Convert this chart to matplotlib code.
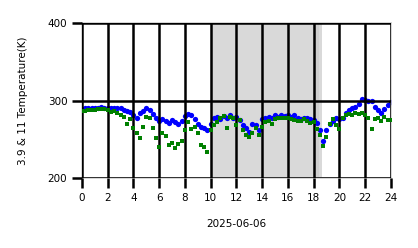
import numpy as np
import matplotlib
matplotlib.use("Agg")
import matplotlib.pyplot as plt

# hours of the day (every 15 min)
hours = np.arange(0, 24.01, 0.25)

# 3.9 um brightness temperature (K)
t39 = [289, 290, 290, 291, 291, 291, 292, 291, 291, 290, 290, 291, 290, 288, 286, 285,
       282, 278, 284, 286, 290, 288, 283, 277, 273, 276, 274, 271, 275, 272, 270, 273,
       280, 283, 281, 276, 270, 266, 265, 262, 270, 277, 279, 276, 280, 278, 281, 277,
       279, 275, 269, 265, 260, 270, 268, 262, 276, 278, 279, 277, 281, 279, 282, 280,
       281, 279, 281, 278, 276, 278, 277, 276, 275, 271, 262, 248, 262, 270, 274, 277,
       276, 278, 284, 288, 290, 292, 296, 302, 301, 300, 300, 292, 288, 284, 289, 294, 298]

# 11 um brightness temperature (K)
t11 = [286, 287, 288, 288, 288, 289, 289, 289, 288, 285, 286, 284, 282, 279, 270, 276,
       265, 258, 252, 266, 279, 278, 264, 252, 240, 258, 254, 243, 245, 239, 244, 248,
       262, 272, 263, 266, 258, 243, 240, 234, 262, 268, 272, 278, 280, 265, 279, 277,
       269, 275, 262, 256, 253, 258, 264, 256, 266, 272, 274, 270, 276, 277, 278, 277,
       278, 276, 275, 274, 273, 276, 274, 271, 272, 263, 256, 241, 253, 270, 276, 268,
       263, 278, 282, 283, 281, 284, 283, 284, 282, 278, 263, 276, 278, 274, 279, 275, 275]

# shaded period (hours)
shade_start = 10.1
shade_end = 18.65

fig = plt.figure(figsize=(4.18, 2.48), dpi=100)
ax = fig.add_axes([0.196, 0.282, 0.739, 0.625])

ax.axvspan(shade_start, shade_end, color="#d9d9d9", lw=0, zorder=0)
ax.axvspan(17.95, 18.45, color="#cfcfcf", lw=0, zorder=0)

ax.plot(hours, t39, "o", color="blue", ms=3.8, mew=0, zorder=2)
ax.plot(hours, t11, "s", color="green", ms=3.2, mew=0, zorder=3)

ax.set_xlim(0, 24)
ax.set_ylim(200, 400)
ax.set_xticks(range(0, 25, 2))
ax.set_yticks([200, 300, 400])

ax.grid(True, color="black", lw=1.8)
ax.set_axisbelow(False)
for s in ax.spines.values():
    s.set_color("#d0d0d0")
    s.set_linewidth(1.2)
ax.tick_params(length=7, width=1.8, labelsize=7.5)

ax.set_xlabel("2025-06-06", fontsize=7.5, labelpad=12)
ax.set_ylabel("3.9 & 11 Temperature(K)", fontsize=7.5, labelpad=14)

fig.savefig("out.png", dpi=100)
